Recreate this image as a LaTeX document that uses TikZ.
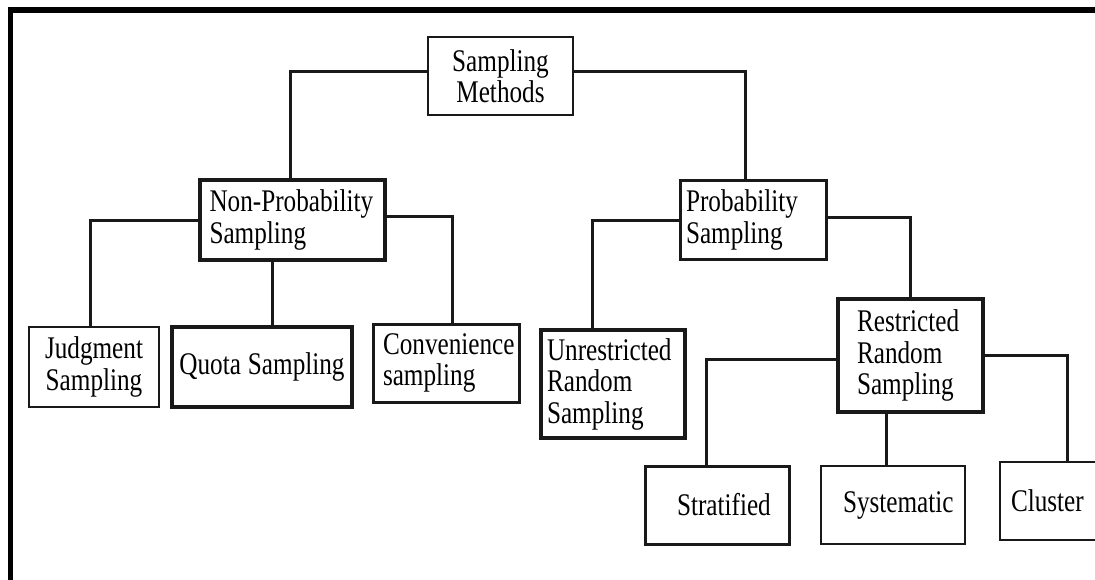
\documentclass[tikz,border=0pt]{standalone}
\usepackage{fontspec}
\setmainfont{Liberation Serif}[FakeStretch=0.8]
\begin{document}
\begin{tikzpicture}[x=1pt,y=1pt,
  box/.style={draw=black!90, rectangle, inner xsep=0pt, inner ysep=0pt,
    font=\fontsize{31.5pt}{31.5pt}\selectfont, line width=3pt},
  link/.style={draw=black!90, line width=3pt},
  frame/.style={draw=black, line width=5.5pt}]
\useasboundingbox (0,0) rectangle (1095,-580);
\fill[white] (0,0) rectangle (1095,-580);
\draw[frame] (10.5,-10) rectangle (1200,-700);

\node[box, line width=2.5pt, minimum width=145pt, minimum height=78pt, text width=135pt, align=center] (sm) at (500.5,-76) {Sampling\\Methods};
\node[box, line width=3.5pt, minimum width=185pt, minimum height=80pt, text width=166pt, align=left] (np) at (292.5,-220) {Non-Probability\\Sampling};
\node[box, line width=3pt, minimum width=146pt, minimum height=78pt, text width=134pt, align=left] (prob) at (753,-220) {Probability\\Sampling};

\node[box, line width=2.5pt, minimum width=130pt, minimum height=80pt, text width=120pt, align=center] (judg) at (94,-367) {Judgment\\Sampling};
\node[box, line width=3.5pt, minimum width=180pt, minimum height=80pt, text width=172pt, align=center] (quota) at (262,-367) {Quota\hspace{7pt}Sampling};
\node[box, line width=3pt, minimum width=146pt, minimum height=78pt, text width=126pt, align=left] (conv) at (446,-363) {Convenience\\sampling};

\node[box, line width=4pt, minimum width=144pt, minimum height=108pt, text width=132pt, align=left] (unr) at (613,-384) {Unrestricted\\Random\\Sampling};
\node[box, line width=4pt, minimum width=145pt, minimum height=113pt, text width=107pt, align=left] (res) at (910.5,-355.5) {Restricted\\Random\\Sampling};

\node[box, line width=3pt, minimum width=144pt, minimum height=78pt, text width=80pt, align=left] (strat) at (717,-505) {Stratified};
\node[box, line width=2.5pt, minimum width=144pt, minimum height=78pt, text width=100pt, align=left] (sys) at (893,-505) {Systematic};
\node[box, line width=2.5pt, minimum width=134pt, minimum height=78pt, text width=112pt, align=left] (clu) at (1067,-501) {Cluster};

% connectors
\draw[link] ([yshift=4pt]sm.west) -| ([xshift=-2.5pt]np.north);
\draw[link] ([yshift=4pt]sm.east) -| ([xshift=-8pt]prob.north);

\draw[link] ([yshift=-1pt]np.west) -| ([xshift=-4pt]judg.north);
\draw[link] ([xshift=-20.5pt]np.south) -- ([xshift=10pt]quota.north);
\draw[link] ([yshift=3pt]np.east) -| ([xshift=6pt]conv.north);

\draw[link] ([yshift=-1pt]prob.west) -| ([xshift=-21pt]unr.north);
\draw[link] ([yshift=2pt]prob.east) -| (res.north);

\draw[link] ([yshift=-3.5pt]res.west) -| ([xshift=-11pt]strat.north);
\draw[link] ([xshift=-24.5pt]res.south) -- ([xshift=-7pt]sys.north);
\draw[link] (res.east) -| (clu.north);
\end{tikzpicture}
\end{document}
